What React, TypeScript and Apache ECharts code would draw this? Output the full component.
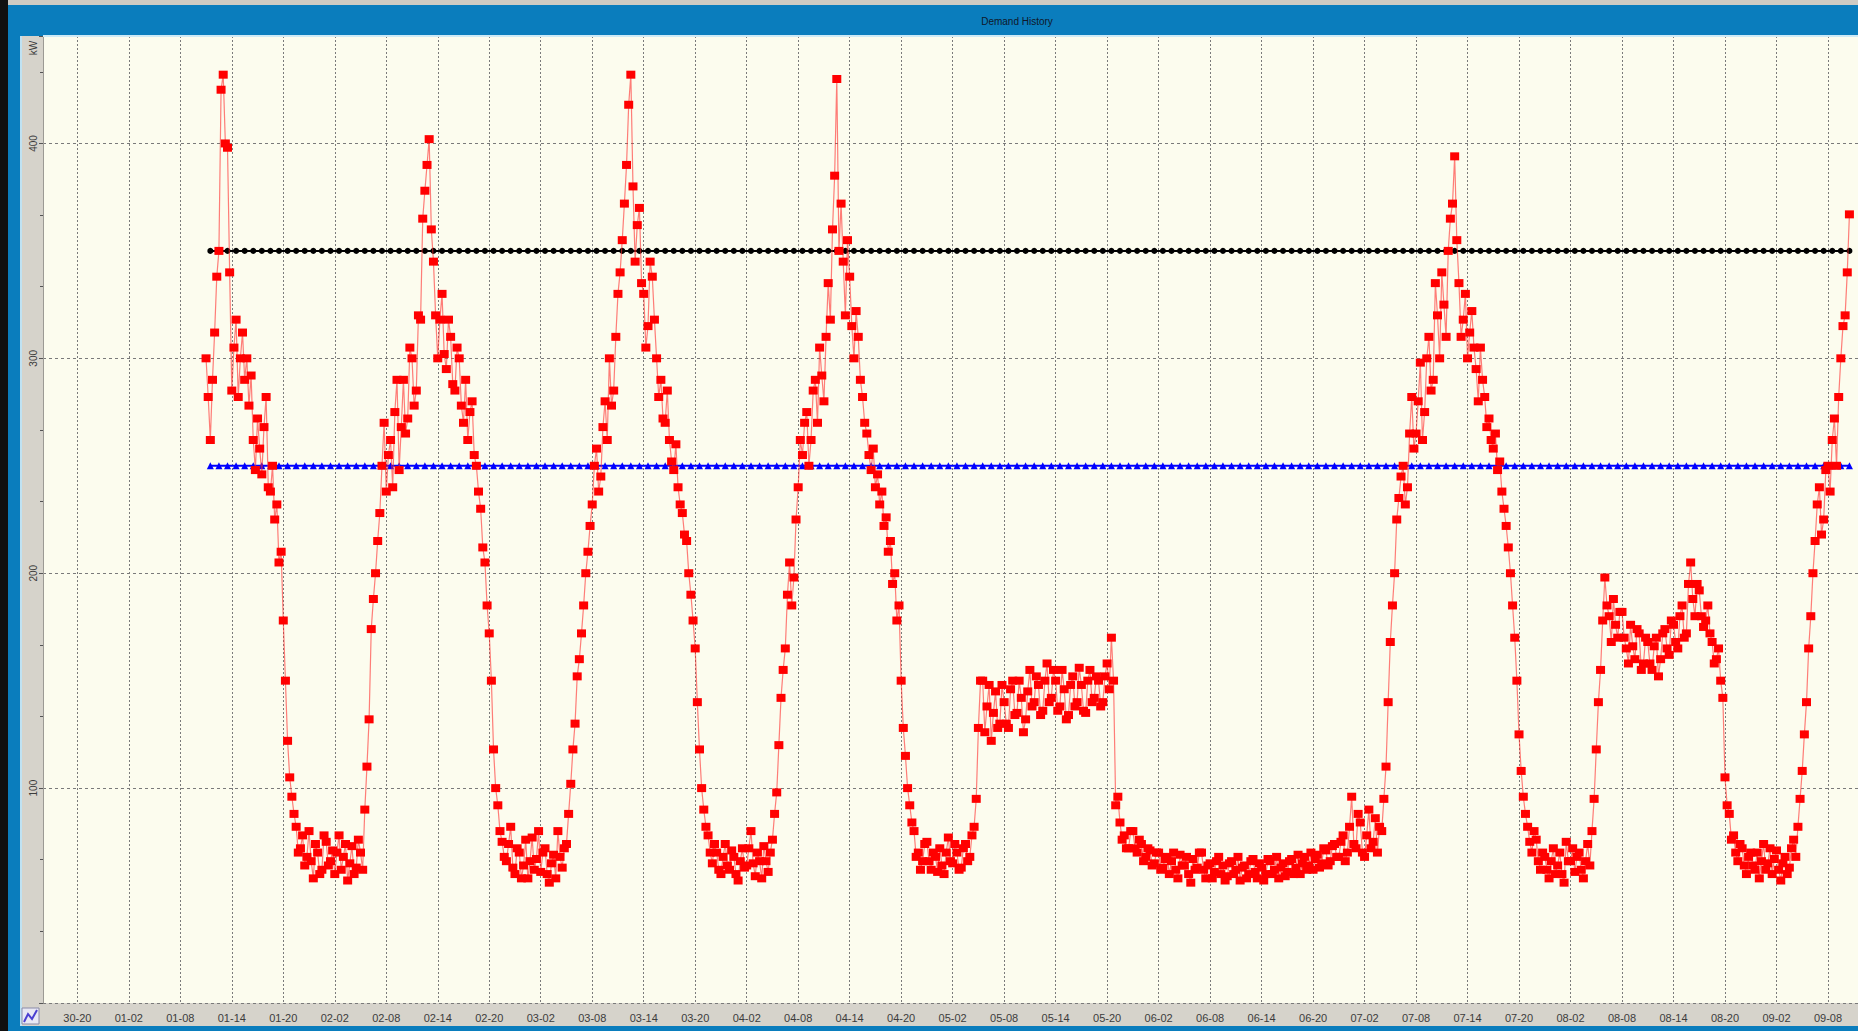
import React, { useEffect, useRef } from 'react';
import * as echarts from 'echarts';

// ---- data ----
const xTickLabels = [
  '30-20', '01-02', '01-08', '01-14', '01-20', '02-02', '02-08', '02-14', '02-20',
  '03-02', '03-08', '03-14', '03-20', '04-02', '04-08', '04-14', '04-20', '05-02',
  '05-08', '05-14', '05-20', '06-02', '06-08', '06-14', '06-20', '07-02', '07-08',
  '07-14', '07-20', '08-02', '08-08', '08-14', '08-20', '09-02', '09-08',
];
const labelEveryDays = 6;
const axisStartDay = -4;
const axisEndDay = 207.5;
const slotsPerDay = 4;

const yTicks = [100, 200, 300, 400];
const yMin = 0;
const yMax = 450;
const yStep = 100;

// measured demand (kW), one reading every quarter day starting at day 15
const redStartDay = 15;
const redStepDays = 0.25;
const demandKW = [
  300, 282, 262, 290, 312, 338, 350, 425, 432, 400, 398, 340,
  285, 305, 318, 282, 300, 312, 290, 300, 278, 292, 262, 248,
  272, 258, 246, 268, 282, 240, 238, 250, 225, 232, 205, 210,
  178, 150, 122, 105, 96, 88, 82, 70, 72, 78, 64, 68,
  80, 66, 58, 74, 70, 60, 62, 78, 75, 64, 66, 71,
  60, 70, 78, 62, 68, 74, 57, 65, 73, 60, 63, 76,
  70, 62, 90, 110, 132, 174, 188, 200, 215, 228, 250, 270,
  238, 255, 262, 240, 275, 290, 248, 268, 290, 265, 272, 305,
  300, 278, 285, 320, 318, 365, 378, 390, 402, 360, 345, 320,
  300, 318, 330, 302, 295, 318, 310, 288, 285, 305, 300, 278,
  270, 290, 262, 275, 280, 255, 250, 238, 230, 212, 205, 185,
  172, 150, 118, 100, 92, 80, 75, 68, 66, 74, 82, 63,
  60, 72, 70, 58, 64, 76, 58, 66, 77, 62, 67, 80,
  61, 70, 72, 60, 56, 65, 69, 58, 80, 68, 63, 72,
  74, 88, 102, 118, 130, 152, 160, 172, 185, 200, 210, 222,
  232, 250, 258, 238, 245, 268, 280, 262, 300, 278, 285, 310,
  330, 340, 355, 372, 390, 418, 432, 380, 345, 362, 370, 335,
  330, 305, 315, 345, 338, 318, 300, 282, 290, 272, 270, 285,
  262, 252, 248, 260, 240, 232, 228, 218, 215, 200, 190, 178,
  165, 140, 118, 100, 90, 82, 78, 70, 65, 74, 70, 62,
  60, 68, 74, 64, 62, 71, 68, 60, 57, 66, 72, 63,
  64, 72, 80, 65, 59, 70, 66, 58, 73, 66, 61, 70,
  76, 88, 98, 120, 142, 155, 165, 190, 205, 185, 198, 225,
  240, 262, 255, 270, 275, 250, 262, 285, 290, 270, 305, 292,
  280, 310, 335, 318, 360, 385, 430, 350, 372, 345, 320, 355,
  338, 315, 300, 322, 310, 290, 282, 270, 265, 255, 248, 258,
  240, 246, 232, 238, 222, 226, 210, 215, 195, 200, 178, 185,
  150, 128, 115, 100, 92, 84, 80, 68, 70, 62, 66, 74,
  75, 66, 62, 70, 68, 61, 72, 64, 60, 70, 77, 66,
  65, 74, 70, 62, 63, 72, 74, 66, 68, 78, 82, 95,
  128, 150, 150, 126, 138, 148, 122, 135, 145, 128, 130, 148,
  140, 130, 128, 146, 150, 134, 135, 150, 142, 126, 132, 145,
  155, 138, 140, 152, 148, 134, 136, 150, 158, 140, 142, 155,
  150, 136, 138, 155, 146, 132, 134, 148, 152, 138, 140, 156,
  148, 136, 135, 150, 155, 140, 142, 152, 150, 138, 140, 152,
  158, 146, 170, 150, 92, 96, 84, 76, 78, 72, 72, 80,
  80, 72, 70, 76, 74, 66, 68, 72, 71, 64, 65, 70,
  70, 62, 63, 67, 68, 60, 66, 70, 62, 58, 69, 64,
  64, 68, 60, 56, 67, 62, 63, 70, 70, 62, 58, 64,
  65, 58, 61, 66, 68, 60, 64, 57, 59, 65, 66, 60,
  62, 68, 57, 63, 64, 58, 60, 66, 67, 61, 58, 65,
  63, 57, 60, 67, 66, 60, 62, 68, 58, 63, 65, 59,
  61, 66, 67, 60, 63, 69, 60, 65, 68, 62, 64, 70,
  62, 67, 69, 63, 65, 72, 71, 64, 66, 73, 74, 68,
  68, 75, 78, 66, 70, 82, 96, 74, 72, 88, 84, 70,
  68, 78, 90, 72, 75, 86, 70, 82, 80, 95, 110, 140,
  168, 185, 200, 225, 235, 245, 250, 232, 240, 265, 282, 258,
  265, 280, 298, 262, 275, 300, 310, 285, 290, 335, 320, 300,
  340, 325, 310, 350, 365, 372, 394, 355, 335, 310, 318, 330,
  300, 312, 322, 305, 295, 280, 305, 290, 282, 268, 272, 262,
  258, 265, 248, 252, 238, 230, 222, 212, 200, 185, 170, 150,
  125, 108, 96, 88, 82, 75, 70, 80, 76, 66, 62, 70,
  68, 62, 58, 66, 72, 60, 64, 70, 60, 56, 75, 66,
  66, 72, 61, 68, 70, 62, 58, 66, 74, 64, 80, 95,
  118, 140, 155, 178, 198, 185, 180, 168, 188, 176, 170, 182,
  182, 170, 165, 158, 176, 166, 160, 174, 172, 155, 158, 170,
  168, 158, 155, 166, 170, 152, 160, 172, 174, 165, 162, 178,
  176, 168, 165, 180, 185, 170, 172, 195, 205, 188, 180, 195,
  192, 180, 175, 178, 185, 172, 168, 158, 160, 165, 150, 142,
  105, 92, 88, 76, 78, 70, 66, 74, 72, 64, 60, 68,
  70, 64, 62, 70, 58, 66, 74, 62, 65, 72, 60, 67,
  71, 62, 57, 65, 68, 60, 63, 72, 76, 68, 82, 95,
  108, 125, 140, 165, 180, 200, 215, 232, 240, 218, 225, 248,
  250, 238, 262, 272, 250, 282, 300, 315, 320, 340, 367,
];

// limit lines (kW), one point per day
const limitStartDay = 15.5;
const limitEndDay = 206.5;
const upperLimitKW = 350;
const lowerLimitKW = 250;

// ---- helpers ----
const dayToSlot = (d: number) => Math.round((d - axisStartDay) * slotsPerDay);
const slotToDay = (i: number) => axisStartDay + i / slotsPerDay;
const isLabelSlot = (i: number) => {
  const d = slotToDay(i);
  return d >= 0 && Math.abs(d % labelEveryDays) < 1e-9 && d / labelEveryDays < xTickLabels.length;
};

const FONT = '"Liberation Sans Narrow", "Liberation Sans", Arial, sans-serif';

export default function App() {
  const ref = useRef<HTMLDivElement>(null);
  useEffect(() => {
    document.body.style.margin = '0';
    const chart = echarts.init(ref.current!, null, { renderer: 'svg' });

    const nSlots = dayToSlot(axisEndDay) + 1;
    const categories: string[] = [];
    for (let i = 0; i < nSlots; i++) categories.push(String(i));

    const redData = demandKW.map((v, i) => [dayToSlot(redStartDay + i * redStepDays), v]);
    const upper: number[][] = [];
    const lower: number[][] = [];
    for (let d = limitStartDay; d <= limitEndDay + 1e-9; d += 1) {
      upper.push([dayToSlot(d), upperLimitKW]);
      lower.push([dayToSlot(d), lowerLimitKW]);
    }

    const blue = '#0a7dbd';
    const option: any = {
      animation: false,
      backgroundColor: '#d6d3cb',
      grid: {
        left: 43, right: 0, top: 36, bottom: 28,
        show: true, backgroundColor: '#fcfcee', borderWidth: 0,
      },
      xAxis: {
        type: 'category',
        data: categories,
        boundaryGap: false,
        axisLine: { show: false },
        axisTick: { show: false },
        axisLabel: {
          interval: (i: number) => isLabelSlot(i),
          formatter: (_v: string, i: number) => xTickLabels[Math.round(slotToDay(i) / labelEveryDays)] ?? '',
          fontFamily: FONT, fontSize: 11, color: '#3c3c3c', margin: 9,
        },
        splitLine: {
          show: true,
          interval: (i: number) => isLabelSlot(i),
          lineStyle: { color: '#7a7a7a', type: [2, 2], width: 1 },
        },
      },
      yAxis: {
        type: 'value',
        min: yMin, max: yMax, interval: yStep,
        axisLine: { show: true, lineStyle: { color: '#9c9a94', width: 1 } },
        axisTick: { show: true, length: 4, lineStyle: { color: '#555' } },
        minorTick: { show: true, splitNumber: 3, length: 3, lineStyle: { color: '#555' } },
        axisLabel: {
          rotate: 90, margin: 5,
          formatter: (v: number) => (yTicks.includes(v) ? String(v) : ''),
          fontFamily: FONT, fontSize: 10, color: '#3c3c3c',
        },
        splitLine: {
          show: true,
          lineStyle: { color: '#7a7a7a', type: [3, 3], width: 1 },
        },
      },
      series: [
        {
          name: 'Upper', type: 'line', data: upper,
          symbol: 'circle', symbolSize: 6, showAllSymbol: true,
          itemStyle: { color: '#000' }, lineStyle: { color: '#000', width: 2 },
          z: 2,
        },
        {
          name: 'Lower', type: 'line', data: lower,
          symbol: 'triangle', symbolSize: 7, showAllSymbol: true,
          itemStyle: { color: '#0000ff' }, lineStyle: { color: '#0000ff', width: 2 },
          z: 3,
        },
        {
          name: 'Demand', type: 'line', data: redData,
          symbol: 'rect', symbolSize: [9, 8], showAllSymbol: true,
          itemStyle: { color: '#ff0000' },
          lineStyle: { color: 'rgba(255,40,40,0.6)', width: 1.2 },
          z: 4,
        },
      ],
      graphic: [
        { type: 'rect', shape: { x: 0, y: 0, width: 1858, height: 5 }, style: { fill: '#cfcbc3' }, z: 100 },
        { type: 'rect', shape: { x: 0, y: 5, width: 1858, height: 31 }, style: { fill: blue }, z: 100 },
        { type: 'rect', shape: { x: 43, y: 35, width: 1815, height: 2 }, style: { fill: '#cdeaf6' }, z: 100 },
        { type: 'rect', shape: { x: 0, y: 0, width: 8, height: 1031 }, style: { fill: '#101010' }, z: 100 },
        { type: 'rect', shape: { x: 8, y: 5, width: 12, height: 1026 }, style: { fill: blue }, z: 100 },
        { type: 'rect', shape: { x: 20, y: 36, width: 2, height: 990 }, style: { fill: '#bfe2f3' }, z: 100 },
        { type: 'rect', shape: { x: 8, y: 1026, width: 1850, height: 5 }, style: { fill: blue }, z: 100 },
        {
          type: 'text', x: 1017, y: 21, z: 101,
          style: { text: 'Demand History', fill: '#10182a', font: `10px ${FONT}`, textAlign: 'center', textVerticalAlign: 'middle' },
        },
        {
          type: 'text', x: 33, y: 48, rotation: Math.PI / 2, z: 101,
          style: { text: 'kW', fill: '#3c3c3c', font: `10px ${FONT}`, textAlign: 'center', textVerticalAlign: 'middle' },
        },
        { type: 'rect', shape: { x: 22, y: 1008, width: 17, height: 16 }, style: { fill: '#e8e8f4', stroke: '#8a8aa8', lineWidth: 1 }, z: 101 },
        { type: 'polyline', shape: { points: [[24, 1022], [28, 1014], [32, 1019], [37, 1010]] }, style: { stroke: '#4a3fd0', lineWidth: 2, fill: 'none' }, z: 102 },
      ],
    };
    chart.setOption(option);
    return () => chart.dispose();
  }, []);
  return <div ref={ref} style={{ width: 1858, height: 1031, position: 'absolute', left: 0, top: 0 }} />;
}
